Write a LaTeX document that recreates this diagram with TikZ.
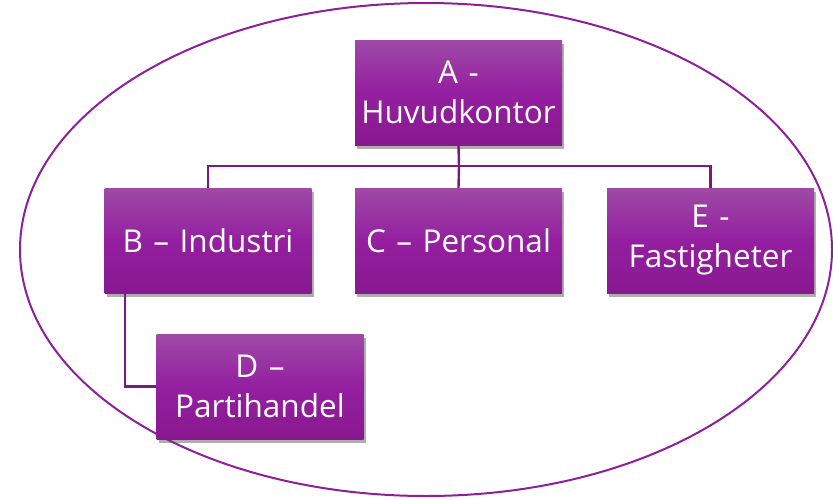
\documentclass[tikz,border=0pt]{standalone}
\usepackage{fontspec}
\setmainfont{Open Sans}
\usetikzlibrary{shadows}
\definecolor{boxtop}{HTML}{9F4AA7}
\definecolor{boxmid}{HTML}{941FA0}
\definecolor{boxbot}{HTML}{891990}
\definecolor{linec}{HTML}{7A1A7E}
\definecolor{ellc}{HTML}{8E1F9B}
\tikzset{
  orgbox/.style={rectangle, minimum width=207pt, minimum height=105pt, inner sep=0pt,
    text width=205pt, align=center, text=white, font=\fontsize{31.5}{40}\selectfont,
    top color=boxtop, bottom color=boxbot, middle color=boxmid,
    drop shadow={shadow xshift=2pt, shadow yshift=-4pt, opacity=0.45, fill=black!70}},
  conn/.style={draw=linec, line width=2.4pt}
}
\begin{document}
\begin{tikzpicture}[x=1pt,y=-1pt]
\useasboundingbox (0,0) rectangle (833,499);
\draw[ellc, line width=2pt] (426,249.5) ellipse [x radius=406, y radius=246.5];
\coordinate (bus) at (459,166);
\node[orgbox] (A) at (458.5,92.5) {A -\\Huvudkontor};
\node[orgbox] (B) at (208,240.5) {B – Industri};
\node[orgbox] (C) at (458.5,240.5) {C – Personal};
\node[orgbox] (E) at (710.5,240.5) {E -\\Fastigheter};
\node[orgbox] (D) at (260,386.5) {D –\\Partihandel};
\draw[conn] (A.south) -- (bus);
\draw[conn] (B.north) |- (bus) -| (E.north);
\draw[conn] (bus) -- (C.north);
\draw[conn] ([xshift=-83pt]B.south) |- (D.west);
\end{tikzpicture}
\end{document}
